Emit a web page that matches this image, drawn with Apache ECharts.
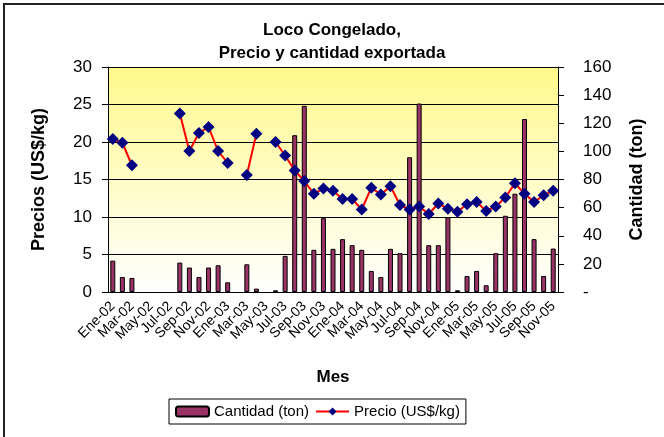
<!DOCTYPE html>
<html>
<head>
<meta charset="utf-8">
<script src="https://cdn.jsdelivr.net/npm/echarts/dist/echarts.min.js"></script>
<style>
html,body{margin:0;padding:0;background:#fff;}
#chart{width:664px;height:437px;}
</style>
</head>
<body>
<div id="chart"></div>
<script>
// meses (Ene-02 .. Nov-05)
var meses = ["Ene-02","Feb-02","Mar-02","Abr-02","May-02","Jun-02","Jul-02","Ago-02","Sep-02","Oct-02","Nov-02","Dic-02",
	"Ene-03","Feb-03","Mar-03","Abr-03","May-03","Jun-03","Jul-03","Ago-03","Sep-03","Oct-03","Nov-03","Dic-03",
	"Ene-04","Feb-04","Mar-04","Abr-04","May-04","Jun-04","Jul-04","Ago-04","Sep-04","Oct-04","Nov-04","Dic-04",
	"Ene-05","Feb-05","Mar-05","Abr-05","May-05","Jun-05","Jul-05","Ago-05","Sep-05","Oct-05","Nov-05"];
// cantidad exportada (ton)
var cantidad = [22.3,10.7,10.0,null,null,null,null,20.9,17.4,10.7,17.4,19.0,
	6.9,null,19.7,2.4,null,1.2,25.7,111.5,132.4,30.0,52.5,30.7,
	37.6,33.3,30.0,15.0,10.7,30.7,27.6,95.8,134.0,33.3,33.3,53.2,
	1.2,11.4,15.0,4.8,27.6,54.2,69.9,123.0,37.6,11.4,30.9];
// precio (US$/kg)
var precio = [20.4,19.9,16.9,null,null,null,null,23.8,18.8,21.2,22.0,18.8,
	17.2,null,15.6,21.1,null,20.0,18.2,16.2,14.8,13.1,13.8,13.5,
	12.4,12.4,11.0,13.9,13.0,14.1,11.6,11.0,11.4,10.4,11.8,11.1,
	10.7,11.7,12.0,10.8,11.4,12.6,14.5,13.1,12.0,12.9,13.5];
var ticksPrecio = [0,5,10,15,20,25,30];
var ticksCantidad = [0,20,40,60,80,100,120,140,160];

var fuente = 'Arial, "Liberation Sans", sans-serif';
var myChart = echarts.init(document.getElementById('chart'));
var option = {
	animation:false,
	backgroundColor:'#fff',
	title:{
		text:'Loco Congelado,\nPrecio y cantidad exportada',
		left:'center',
		top:19,
		padding:0,
		textStyle:{fontFamily:fuente,fontSize:17,fontWeight:'bold',color:'#000',lineHeight:23}
	},
	graphic:[{
		type:'rect',
		shape:{x:4,y:4,width:720,height:500},
		style:{fill:'none',stroke:'#222',lineWidth:2},
		silent:true
	}],
	legend:{
		left:169,
		top:399,
		padding:[5,6],
		itemGap:6,
		itemWidth:33,
		itemHeight:10,
		borderColor:'#000',
		borderWidth:1,
		borderRadius:0,
		textStyle:{fontFamily:fuente,fontSize:15,color:'#000'},
		data:['Cantidad (ton)','Precio (US$/kg)']
	},
	grid:{
		left:108,
		right:106,
		top:67,
		bottom:145,
		show:true,
		borderWidth:0,
		backgroundColor:new echarts.graphic.LinearGradient(0,0,0,1,[
			{offset:0,color:'#FFF98C'},
			{offset:1,color:'#FFFFFF'}
		])
	},
	xAxis:{
		type:'category',
		data:meses,
		boundaryGap:true,
		name:'Mes',
		nameLocation:'middle',
		nameGap:77,
		nameTextStyle:{fontFamily:fuente,fontSize:17,fontWeight:'bold',color:'#000'},
		axisLine:{lineStyle:{color:'#000',width:1}},
		axisTick:{interval:1,length:5,lineStyle:{color:'#000'}},
		axisLabel:{
			interval:0,rotate:45,margin:12,showMinLabel:true,showMaxLabel:true,hideOverlap:false,
			fontFamily:fuente,fontSize:14,color:'#000',
			//solo un mes de cada dos
			formatter:function(v,i){return i%2==0?v:'';}
		}
	},
	yAxis:[{
		type:'value',
		min:ticksPrecio[0],
		max:ticksPrecio[ticksPrecio.length-1],
		interval:5,
		name:'Precios (US$/kg)',
		nameLocation:'middle',
		nameRotate:90,
		nameGap:60,
		nameTextStyle:{fontFamily:fuente,fontSize:18,fontWeight:'bold',color:'#000'},
		axisLine:{show:true,lineStyle:{color:'#000'}},
		axisTick:{show:true,length:6,lineStyle:{color:'#000'}},
		axisLabel:{margin:16,fontFamily:fuente,fontSize:17,color:'#000'},
		splitLine:{show:true,lineStyle:{color:'#000',width:1}}
	},{
		type:'value',
		position:'right',
		min:ticksCantidad[0],
		max:ticksCantidad[ticksCantidad.length-1],
		interval:20,
		name:'Cantidad (ton)',
		nameLocation:'middle',
		nameRotate:90,
		nameGap:70,
		nameTextStyle:{fontFamily:fuente,fontSize:18,fontWeight:'bold',color:'#000'},
		axisLine:{show:true,lineStyle:{color:'#000'}},
		axisTick:{show:true,length:6,lineStyle:{color:'#000'}},
		axisLabel:{
			margin:25,
			fontFamily:fuente,fontSize:17,color:'#000',
			formatter:function(v){return v===0?'-':v;}
		},
		splitLine:{show:false}
	}],
	series:[{
		name:'Cantidad (ton)',
		type:'bar',
		yAxisIndex:1,
		barWidth:5,
		itemStyle:{color:'#993366',borderColor:'#000',borderWidth:1},
		data:cantidad
	},{
		name:'Precio (US$/kg)',
		type:'line',
		yAxisIndex:0,
		connectNulls:false,
		showAllSymbol:true,
		symbol:'diamond',
		symbolSize:12,
		itemStyle:{color:'#000080'},
		lineStyle:{color:'#FF0000',width:2},
		z:5,
		data:precio
	}]
};
myChart.setOption(option);
</script>
</body>
</html>
